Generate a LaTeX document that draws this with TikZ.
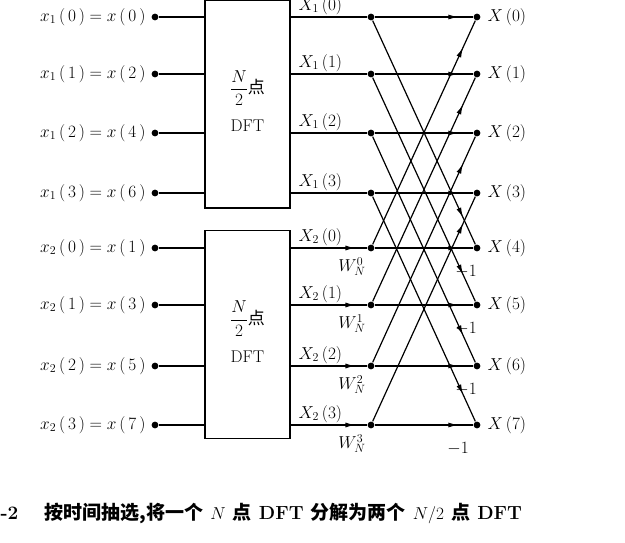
\documentclass[tikz,border=0pt]{standalone}
\usepackage{fontspec}
\newfontfamily\cjk{Noto Sans CJK SC}
\usetikzlibrary{arrows.meta,decorations.markings}

\tikzset{
  dot/.style={circle,fill,inner sep=2.4pt},
  blk/.style={draw,line width=1.5pt,minimum width=85pt,minimum height=208pt},
  flow/.style={line width=1.2pt,postaction={decorate},decoration={markings,
    mark=at position #1 with {\arrow{Latex[length=10pt,width=5pt]}}}},
  flow/.default=0.85
}

\begin{document}
\begin{tikzpicture}[x=1pt,y=-1pt,font=\fontsize{17}{20}\selectfont,line width=1.2pt]
  \useasboundingbox (0,0) rectangle (625,542);
  % blocks
  \node[blk] (b1) at (247.5,104) {};
  \node[blk] (b2) at (247.5,334.5) {};
  \node at (b1) {\begin{tabular}{c}$\displaystyle\frac{N}{2}${\cjk 点}\\[18pt]DFT\end{tabular}};
  \node at (b2) {\begin{tabular}{c}$\displaystyle\frac{N}{2}${\cjk 点}\\[18pt]DFT\end{tabular}};
  \foreach \i/\y/\n in {0/17/0,1/74/2,2/133/4,3/193/6}{
    \node[dot] (i\i) at (155,\y) {};
    \node[anchor=east,inner sep=0pt] at (146,\y) {$x_1\,(\,\i\,)=x\,(\,\n\,)$};
    \draw (i\i) -- (205,\y);
    \node[dot] (m\i) at (371,\y) {};
    \draw (290,\y) -- (m\i);
    \node[anchor=south west,inner sep=1pt] at (297,\y-1) {$X_1\,(\i)$};
  }
  \foreach \i/\y/\n in {4/248/1,5/305/3,6/366/5,7/425/7}{
    \pgfmathtruncatemacro{\k}{\i-4}
    \node[dot] (i\i) at (155,\y) {};
    \node[anchor=east,inner sep=0pt] at (146,\y) {$x_2\,(\,\k\,)=x\,(\,\n\,)$};
    \draw (i\i) -- (205,\y);
    \node[dot] (m\i) at (371,\y) {};
    \draw[flow=0.85] (290,\y) -- (m\i);
    \node[anchor=south west,inner sep=1pt] at (297,\y-1) {$X_2\,(\k)$};
    \node[anchor=north,inner sep=0pt] at (352,\y+9) {$W_N^{\k}$};
  }
  % outputs
  \foreach \i/\y in {0/17,1/74,2/133,3/193,4/248,5/305,6/366,7/425}{
    \node[dot] (o\i) at (477,\y) {};
    \node[anchor=west,inner sep=0pt] at (487,\y) {$X\,(\i)$};
  }
  % butterflies
  \foreach \k in {0,...,3}{
    \pgfmathtruncatemacro{\j}{\k+4}
    \draw[flow] (m\k) -- (o\k);
    \draw[flow=0.88] (m\k) -- (o\j);
    \draw[flow=0.88] (m\j) -- (o\k);
    \draw[flow] (m\j) -- (o\j);
  }
  \foreach \y in {272,329,390}{
    \node at (466,\y) {$-1$};
  }
  \node at (458,449) {$-1$};
  \node[anchor=west,inner sep=0pt,font=\fontsize{19}{22}\selectfont] at (0,513) {\bfseries -2\quad\ {\cjk\bfseries 按时间抽选,将一个} $N$ {\cjk\bfseries 点} DFT {\cjk\bfseries 分解为两个} $N/2$ {\cjk\bfseries 点} DFT};
\end{tikzpicture}
\end{document}
